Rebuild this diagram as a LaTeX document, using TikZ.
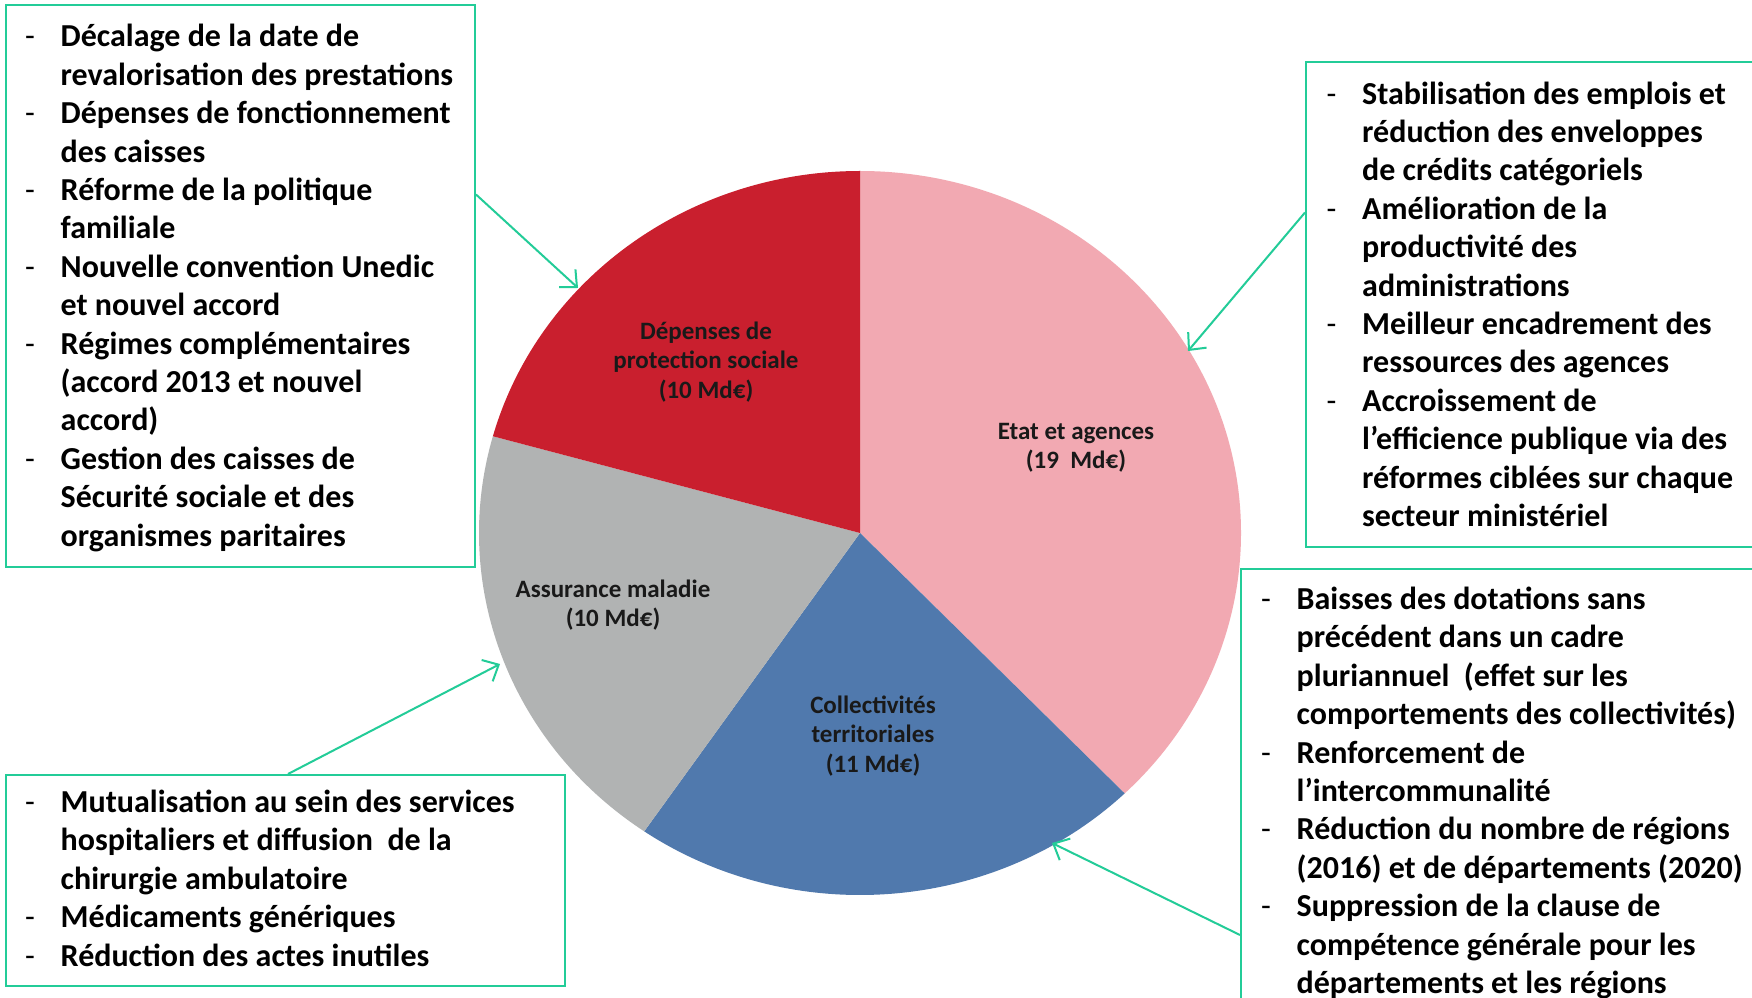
\documentclass[tikz,border=0pt]{standalone}
\usepackage{fontspec}
\setsansfont{Carlito}
\usepackage{tikz}
\usetikzlibrary{arrows.meta,positioning}

\definecolor{sliceRed}{RGB}{201,31,46}
\definecolor{slicePink}{RGB}{242,169,178}
\definecolor{sliceBlue}{RGB}{80,121,173}
\definecolor{sliceGrey}{RGB}{177,179,179}
\definecolor{frameGreen}{RGB}{35,204,152}

\newcommand{\dsh}{\makebox[35.5pt][l]{\mdseries -}}
\newcommand{\listfont}{\sffamily\bfseries\fontsize{32}{38.4}\selectfont}

\begin{document}
\begin{tikzpicture}[x=1pt,y=1pt,
    panel/.style={draw=frameGreen,line width=2pt,inner sep=0pt,anchor=north west},
    bullets/.style={inner sep=0pt,anchor=base west,font=\listfont},
    pointer/.style={draw=frameGreen,line width=2pt,-{Straight Barb[length=13pt,width=24pt,line width=2pt]}},
    slicelabel/.style={align=center,inner sep=0pt,text=black!90,font=\sffamily\bfseries\fontsize{25}{29.5}\selectfont}]
  \fill[white] (0,0) rectangle (1752,997);
  \useasboundingbox (0,0) rectangle (1752,997);
  \clip (0,0) rectangle (1752,997);

  % pie
  \coordinate (c) at (860,464);
  \fill[slicePink] (c) -- ++(90:381 and 362) arc[start angle=90,end angle=-46,x radius=381,y radius=362] -- cycle;
  \fill[sliceBlue] (c) -- ++(-46:381 and 362) arc[start angle=-46,end angle=-124.5,x radius=381,y radius=362] -- cycle;
  \fill[sliceGrey] (c) -- ++(-124.5:381 and 362) arc[start angle=-124.5,end angle=-195.5,x radius=381,y radius=362] -- cycle;
  \fill[sliceRed] (c) -- ++(164.5:381 and 362) arc[start angle=164.5,end angle=90,x radius=381,y radius=362] -- cycle;

  \node[slicelabel] (protec) at (706,635) {D\'epenses de\\protection sociale\\(10 Md€)};
  \node[slicelabel] (etat) at (1076,549) {Etat et agences\\(19\ \ Md€)};
  \node[slicelabel] (maladie) at (613,392) {Assurance maladie\\(10 Md€)};
  \node[slicelabel] (collec) at (873,261) {Collectivit\'es\\territoriales\\(11 Md€)};

  % boxes
  \node[panel,minimum width=469.5,minimum height=561.5] (boxA) at (4.5,992.5) {};
  \node[panel,minimum width=455,minimum height=484.5] (boxB) at (1305,935.5) {};
  \node[panel,minimum width=520,minimum height=439] (boxC) at (1240,429) {};
  \node[panel,minimum width=559.5,minimum height=211] (boxD) at (4.5,223) {};

  \node[bullets] (listA) at (25,950) {\begin{tabular}[t]{@{}l@{}l@{}}
    \dsh & D\'ecalage de la date de\\
         & revalorisation des prestations\\
    \dsh & D\'epenses de fonctionnement\\
         & des caisses\\
    \dsh & R\'eforme de la politique\\
         & familiale\\
    \dsh & Nouvelle convention Unedic\\
         & et nouvel accord\\
    \dsh & R\'egimes compl\'ementaires\\
         & (accord 2013 et nouvel\\
         & accord)\\
    \dsh & Gestion des caisses de\\
         & S\'ecurit\'e sociale et des\\
         & organismes paritaires
  \end{tabular}};

  \node[bullets] (listB) at (1326.5,892.8) {\begin{tabular}[t]{@{}l@{}l@{}}
    \dsh & Stabilisation des emplois et\\
         & r\'eduction des enveloppes\\
         & de cr\'edits cat\'egoriels\\
    \dsh & Am\'elioration de la\\
         & productivit\'e des\\
         & administrations\\
    \dsh & Meilleur encadrement des\\
         & ressources des agences\\
    \dsh & Accroissement de\\
         & l’efficience publique via des\\
         & r\'eformes cibl\'ees sur chaque\\
         & secteur minist\'eriel
  \end{tabular}};

  \node[bullets] (listC) at (1261,387.5) {\begin{tabular}[t]{@{}l@{}l@{}}
    \dsh & Baisses des dotations sans\\
         & pr\'ec\'edent dans un cadre\\
         & pluriannuel\ \ (effet sur les\\
         & comportements des collectivit\'es)\\
    \dsh & Renforcement de\\
         & l’intercommunalit\'e\\
    \dsh & R\'eduction du nombre de r\'egions\\
         & (2016) et de d\'epartements (2020)\\
    \dsh & Suppression de la clause de\\
         & comp\'etence g\'en\'erale pour les\\
         & d\'epartements et les r\'egions
  \end{tabular}};

  \node[bullets] (listD) at (25,184.5) {\begin{tabular}[t]{@{}l@{}l@{}}
    \dsh & Mutualisation au sein des services\\
         & hospitaliers et diffusion\ \ de la\\
         & chirurgie ambulatoire\\
    \dsh & M\'edicaments g\'en\'eriques\\
    \dsh & R\'eduction des actes inutiles
  \end{tabular}};

  % arrows into the slices
  \coordinate (tipA) at (578,709);
  \coordinate (tipB) at (1188,646);
  \coordinate (tipC) at (1052,154);
  \coordinate (tipD) at (500,333);
  \draw[pointer] ([yshift=-190pt]boxA.north east) -- (tipA);
  \draw[pointer] ([yshift=-151pt]boxB.north west) -- (tipB);
  \draw[pointer] ([yshift=-367pt]boxC.north west) -- (tipC);
  \draw[pointer] ([xshift=283.5pt]boxD.north west) -- (tipD);
\end{tikzpicture}
\end{document}
